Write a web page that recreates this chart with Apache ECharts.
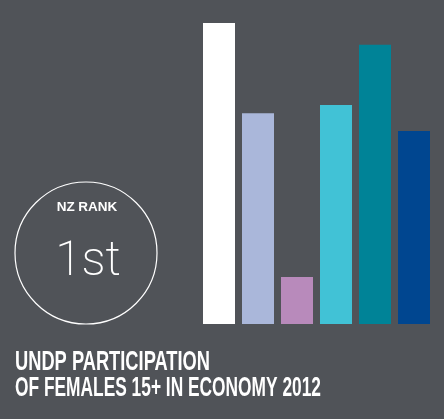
<!DOCTYPE html>
<html><head><meta charset="utf-8">
<script src="https://cdn.jsdelivr.net/npm/echarts@6/dist/echarts.min.js"></script>
<style>html,body{margin:0;padding:0;background:#505358}#c{width:444px;height:419px}</style>
</head><body><div id="c"></div>
<script>
const categories = ['New Zealand', 'Group A', 'Group B', 'Group C', 'Group D', 'Group E'];
const values = [62.1, 43.5, 9.7, 45.2, 57.6, 39.8];
const barColors = ['#ffffff', '#aab7da', '#b88abb', '#41c2d6', '#008397', '#004690'];
const titleLines = ['UNDP PARTICIPATION', 'OF FEMALES 15+ IN ECONOMY 2012'];
const rankLabel = 'NZ RANK';
const rankValue = '1st';

const titleFont = 'bold 28.5px "Liberation Sans", Arial, sans-serif';
const titleWidths = [195, 306];
const ctx = document.createElement('canvas').getContext('2d');
ctx.font = titleFont;
const titleGraphics = titleLines.map((t, i) => {
  const w = ctx.measureText(t).width;
  return {type: 'text', x: 15, y: 362.5 + i * 26, scaleX: titleWidths[i] / w,
    style: {text: t, fill: '#ffffff', font: titleFont, textAlign: 'left', textVerticalAlign: 'middle'}};
});

const chart = echarts.init(document.getElementById('c'), null, {renderer: 'canvas'});
chart.setOption({
  backgroundColor: '#505358',
  animation: false,
  grid: {left: 199.5, right: 10.5, top: 23, bottom: 95},
  xAxis: {type: 'category', data: categories, show: false},
  yAxis: {type: 'value', min: 0, max: values[0], show: false},
  series: [{
    type: 'bar', barWidth: 32,
    data: values.map((v, i) => ({value: v, itemStyle: {color: barColors[i]}}))
  }],
  graphic: [
    {type: 'circle', shape: {cx: 86, cy: 253, r: 71}, style: {fill: 'none', stroke: '#ffffff', lineWidth: 1.2}},
    {type: 'text', x: 87, y: 207, style: {text: rankLabel, fill: '#ffffff', font: 'bold 13.5px "Liberation Sans", Arial, sans-serif', textAlign: 'center', textVerticalAlign: 'middle'}},
    {type: 'text', x: 88, y: 263, style: {text: rankValue, fill: '#ffffff', font: '200 48px Roboto, Lato, sans-serif', textAlign: 'center', textVerticalAlign: 'middle'}}
  ].concat(titleGraphics)
});
</script></body></html>
